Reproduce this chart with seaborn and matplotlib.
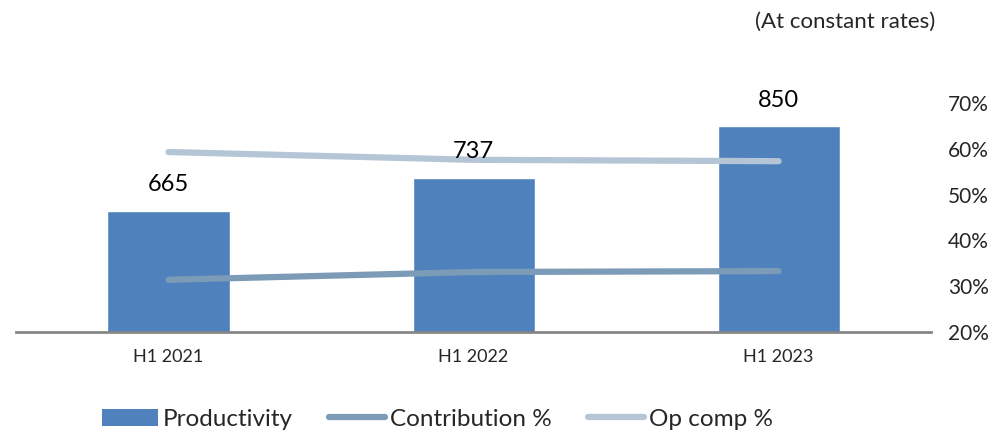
import matplotlib
matplotlib.use("Agg")
import matplotlib.pyplot as plt
import seaborn as sns
import pandas as pd
from matplotlib.patches import Patch
from matplotlib.lines import Line2D
from matplotlib.ticker import PercentFormatter

# data
periods = ["H1 2021", "H1 2022", "H1 2023"]
productivity = [665, 737, 850]
contribution_pct = [31.4, 33.1, 33.3]
op_comp_pct = [59.3, 57.6, 57.3]

bar_color = "#4F81BD"
contrib_color = "#7B9BB7"
opcomp_color = "#B4C5D5"

sns.set_theme(style="white")
plt.rcParams["font.family"] = ["Lato", "DejaVu Sans"]

df = pd.DataFrame({
    "period": periods,
    "productivity": productivity,
    "contribution": contribution_pct,
    "op_comp": op_comp_pct,
})

fig = plt.figure(figsize=(9.99, 4.32), dpi=100)
ax = fig.add_axes([0.016, 0.2315, 0.916, 0.53])

sns.barplot(data=df, x="period", y="productivity", color=bar_color,
            width=0.4, saturation=1, ax=ax)
ax.set_xlim(-0.5, 2.5)
ax.set_ylim(400, 900)
ax.set_yticks([])
ax.set_xlabel("")
ax.set_ylabel("")
ax.tick_params(axis="x", length=0, labelsize=13, pad=12)
for s in ["top", "left", "right"]:
    ax.spines[s].set_visible(False)
ax.spines["bottom"].set_color("#868686")
ax.spines["bottom"].set_linewidth(2)

ax2 = ax.twinx()
sns.lineplot(x=range(len(periods)), y=df["contribution"], color=contrib_color,
             linewidth=4.5, solid_capstyle="round", ax=ax2)
sns.lineplot(x=range(len(periods)), y=df["op_comp"], color=opcomp_color,
             linewidth=4.5, solid_capstyle="round", ax=ax2)
ax2.set_ylim(20, 70)
ax2.set_yticks([20, 30, 40, 50, 60, 70])
ax2.yaxis.set_major_formatter(PercentFormatter(decimals=0))
ax2.tick_params(axis="y", length=0, labelsize=15, pad=12)
ax2.set_ylabel("")
for s in ax2.spines.values():
    s.set_visible(False)

# value labels over the bars
for i, v in enumerate(productivity):
    ax2.annotate(str(v), xy=(i, v), xycoords=ax.transData,
                 xytext=(0, 11), textcoords="offset points",
                 ha="center", va="bottom", fontsize=17, color="black")

fig.text(0.936, 0.95, "(At constant rates)", ha="right", va="center", fontsize=16)

handles = [
    Patch(facecolor=bar_color, edgecolor="none"),
    Line2D([0], [0], color=contrib_color, linewidth=4.5, solid_capstyle="round"),
    Line2D([0], [0], color=opcomp_color, linewidth=4.5, solid_capstyle="round"),
]
fig.legend(handles, ["Productivity", "Contribution %", "Op comp %"],
           loc="center", bbox_to_anchor=(0.438, 0.03), ncol=3, frameon=False,
           fontsize=17.5, handlelength=2.3, handletextpad=0.2, columnspacing=1.5)

fig.savefig("out.png", dpi=100)
